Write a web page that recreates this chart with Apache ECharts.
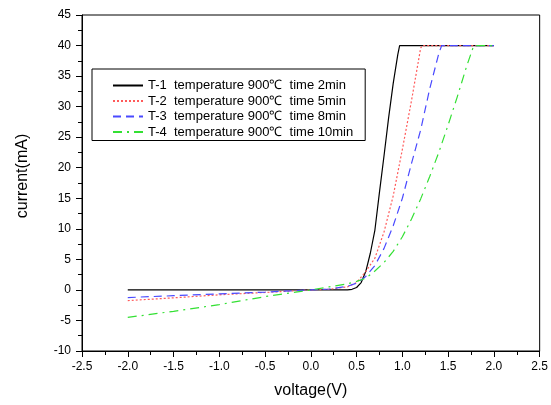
<!DOCTYPE html>
<html>
<head>
<meta charset="utf-8">
<script src="https://cdn.jsdelivr.net/npm/echarts@6/dist/echarts.min.js"></script>
<style>
html,body{margin:0;padding:0;background:#fff;}
#main{width:551px;height:405px;}
</style>
</head>
<body>
<div id="main"></div>
<script>
// series names
var names = [
	'T-1  temperature 900\u2103  time 2min',
	'T-2  temperature 900\u2103  time 5min',
	'T-3  temperature 900\u2103  time 8min',
	'T-4  temperature 900\u2103  time 10min'
];

// voltage(V), current(mA)
var t1 = [[-2,0],[-1,0],[0,0],[0.4,0],[0.45,0.1],[0.5,0.4],[0.55,1.2],[0.6,3],[0.65,6],[0.7,9.8],
	[0.75,16],[0.8,22],[0.85,28.2],[0.9,33.8],[0.95,38.5],[0.97,40],[2,40]];
var t2 = [[-2,-1.75],[-1.5,-1.3],[-1,-0.8],[-0.5,-0.42],[0,0],[0.2,0.1],[0.4,0.5],[0.5,1.2],[0.6,3],
	[0.7,5.2],[0.8,9.5],[0.9,15.4],[1.0,23],[1.1,31],[1.2,39.6],[1.22,40],[2,40]];
var t3 = [[-2,-1.25],[-1.5,-0.95],[-1,-0.65],[-0.5,-0.35],[0,0],[0.2,0.15],[0.4,0.6],[0.5,1.1],[0.6,2.2],
	[0.7,4],[0.8,6.8],[0.9,10.5],[1.0,15],[1.1,20.7],[1.2,26.2],[1.3,33],[1.4,38.8],[1.43,40],[2,40]];
var t4 = [[-2,-4.5],[-1.5,-3.5],[-1,-2.4],[-0.5,-1.1],[0,0],[0.2,0.5],[0.4,1],[0.5,1.4],[0.6,1.9],
	[0.7,3.1],[0.8,4.5],[0.9,6.3],[1.0,8.7],[1.1,11.6],[1.2,14.9],[1.3,18.6],[1.4,22.6],[1.5,27],
	[1.6,31.6],[1.7,36.5],[1.78,40],[2,40]];

var colors = ['#000000','#ff5a5a','#4a4aff','#33e033'];
var dashes = ['solid',[2,2],[8,5],[9,5,2,5]];
var allData = [t1,t2,t3,t4];

var myChart = echarts.init(document.getElementById('main'));

var series = [];
for(var i=0;i<allData.length;i++){
	series.push({
		name: names[i],
		type: 'line',
		data: allData[i],
		showSymbol: false,
		symbol: 'none',
		animation: false,
		lineStyle: {color: colors[i], width: 1.2, type: dashes[i]},
		itemStyle: {color: colors[i]}
	});
}

var font = 'Liberation Sans, Arial';
var axisFont = {color:'#000', fontSize:12, fontFamily:font};

var option = {
	backgroundColor: '#fff',
	grid: {left:82, right:8, top:15, bottom:54, show:true, borderColor:'#000', borderWidth:1},
	legend: {
		show: true,
		orient: 'vertical',
		left: 92,
		top: 69,
		itemWidth: 30,
		itemHeight: 10,
		itemGap: 2.5,
		padding: [10,12,2,20],
		borderColor: '#000',
		borderWidth: 1,
		backgroundColor: '#fff',
		itemStyle: {opacity: 0},	// 不要图例里的圆点
		textStyle: {color:'#000', fontSize:13, fontFamily:font}
	},
	xAxis: {
		type: 'value',
		min: -2.5, max: 2.5, interval: 0.5,
		name: 'voltage(V)',
		nameLocation: 'middle',
		nameGap: 32,
		nameTextStyle: {color:'#000', fontSize:16, fontFamily:font},
		axisLine: {onZero:false, lineStyle:{color:'#000'}},
		axisTick: {inside:false, length:6, lineStyle:{color:'#000'}},
		minorTick: {show:true, splitNumber:2, length:4, lineStyle:{color:'#000'}},
		splitLine: {show:false},
		axisLabel: Object.assign({formatter:function(v){return v.toFixed(1);}, margin:10}, axisFont)
	},
	yAxis: {
		type: 'value',
		min: -10, max: 45, interval: 5,
		name: 'current(mA)',
		nameLocation: 'middle',
		nameGap: 51,
		nameTextStyle: {color:'#000', fontSize:16, fontFamily:font, padding:[0,0,0,14]},
		axisLine: {onZero:false, lineStyle:{color:'#000'}},
		axisTick: {inside:false, length:6, lineStyle:{color:'#000'}},
		minorTick: {show:true, splitNumber:2, length:4, lineStyle:{color:'#000'}},
		splitLine: {show:false},
		axisLabel: Object.assign({margin:11}, axisFont)
	},
	series: series
};
myChart.setOption(option);
</script>
</body>
</html>
